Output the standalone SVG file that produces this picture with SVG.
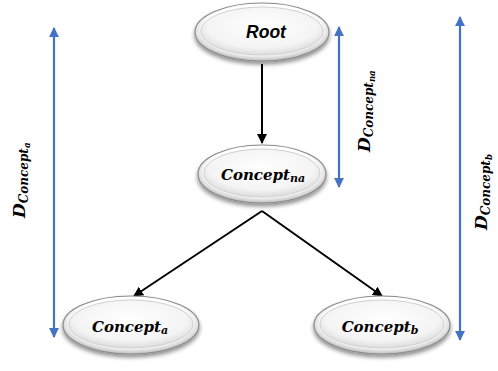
<svg xmlns="http://www.w3.org/2000/svg" width="498" height="371" viewBox="0 0 498 371">
  <style>
    .node ellipse.outer { fill: url(#rim); stroke: #8a8a8a; stroke-width: 1.2; filter: url(#shadow); }
    .node ellipse.inner { fill: url(#face); stroke: #d0d0d0; stroke-width: 1; }
    .lbl { font-family: "DejaVu Serif", "Liberation Serif", serif; font-weight: bold; font-style: italic; font-size: 15px; fill: #000; }
    .dlbl { font-family: "DejaVu Serif", "Liberation Serif", serif; font-weight: bold; font-style: italic; font-size: 17px; fill: #000; }
    .root { font-family: "Liberation Sans", Arial, sans-serif; font-weight: bold; font-style: italic; font-size: 17.5px; fill: #000; }
    .edge { stroke: #000; stroke-width: 2; fill: none; marker-end: url(#blackHead); }
    .span { stroke: #4472c4; stroke-width: 2.2; fill: none; marker-start: url(#blueHead); marker-end: url(#blueHead); }
  </style>
  <defs>
    <radialGradient id="rim" cx="50%" cy="45%" r="55%">
      <stop offset="0.8" stop-color="#ffffff"/>
      <stop offset="1" stop-color="#bdbdbd"/>
    </radialGradient>
    <radialGradient id="face" cx="50%" cy="40%" r="60%">
      <stop offset="0" stop-color="#ffffff"/>
      <stop offset="0.75" stop-color="#f4f4f4"/>
      <stop offset="1" stop-color="#dcdcdc"/>
    </radialGradient>
    <filter id="shadow" x="-20%" y="-30%" width="140%" height="170%">
      <feGaussianBlur in="SourceAlpha" stdDeviation="2"/>
      <feOffset dx="0" dy="3" result="b"/>
      <feComponentTransfer><feFuncA type="linear" slope="0.45"/></feComponentTransfer>
      <feMerge><feMergeNode/><feMergeNode in="SourceGraphic"/></feMerge>
    </filter>
    <marker id="blackHead" viewBox="0 0 10 10" refX="9" refY="5" markerWidth="5" markerHeight="5" orient="auto">
      <path d="M0,0 L10,5 L0,10 z" fill="#000"/>
    </marker>
    <marker id="blueHead" viewBox="0 0 10 10" refX="9" refY="5" markerWidth="4.5" markerHeight="4.5" orient="auto-start-reverse">
      <path d="M0,0 L10,5 L0,10 z" fill="#4472c4"/>
    </marker>
  </defs>

  <rect width="498" height="371" fill="#ffffff"/>

  <!-- connectors -->
  <g id="connectors">
    <line class="edge" x1="262" y1="64" x2="262" y2="143"/>
    <line class="edge" x1="262" y1="211" x2="134" y2="296"/>
    <line class="edge" x1="262" y1="211" x2="382" y2="296"/>
    <line class="span" x1="54" y1="28" x2="54" y2="337"/>
    <line class="span" x1="339" y1="27" x2="339" y2="187"/>
    <line class="span" x1="460" y1="17" x2="460" y2="340"/>
  </g>

  <!-- span labels, read bottom to top -->
  <g id="span-labels">
    <text class="dlbl" transform="translate(25,218) rotate(-90)">D<tspan font-size="12" dy="3">Concept</tspan><tspan font-size="8.5" dy="2">a</tspan></text>
    <text class="dlbl" transform="translate(370,152) rotate(-90)">D<tspan font-size="12" dy="3">Concept</tspan><tspan font-size="8.5" dy="2">na</tspan></text>
    <text class="dlbl" transform="translate(487,230) rotate(-90)">D<tspan font-size="12" dy="3">Concept</tspan><tspan font-size="8.5" dy="2">b</tspan></text>
  </g>

  <!-- nodes -->
  <g id="root" class="node">
    <ellipse class="outer" cx="262" cy="32" rx="67" ry="29"/>
    <ellipse class="inner" cx="262" cy="31" rx="61" ry="24"/>
    <text class="root" x="266" y="38" text-anchor="middle">Root</text>
  </g>
  <g id="concept-na" class="node">
    <ellipse class="outer" cx="262" cy="174" rx="64" ry="29"/>
    <ellipse class="inner" cx="262" cy="173" rx="58" ry="24"/>
    <text class="lbl" x="263" y="180" text-anchor="middle">Concept<tspan font-size="11" dy="2">na</tspan></text>
  </g>
  <g id="concept-a" class="node">
    <ellipse class="outer" cx="131" cy="325" rx="68" ry="29"/>
    <ellipse class="inner" cx="131" cy="324" rx="62" ry="24"/>
    <text class="lbl" x="130" y="332" text-anchor="middle">Concept<tspan font-size="11" dy="2">a</tspan></text>
  </g>
  <g id="concept-b" class="node">
    <ellipse class="outer" cx="382" cy="325" rx="68" ry="29"/>
    <ellipse class="inner" cx="382" cy="324" rx="62" ry="24"/>
    <text class="lbl" x="380" y="332" text-anchor="middle">Concept<tspan font-size="11" dy="2">b</tspan></text>
  </g>
</svg>
